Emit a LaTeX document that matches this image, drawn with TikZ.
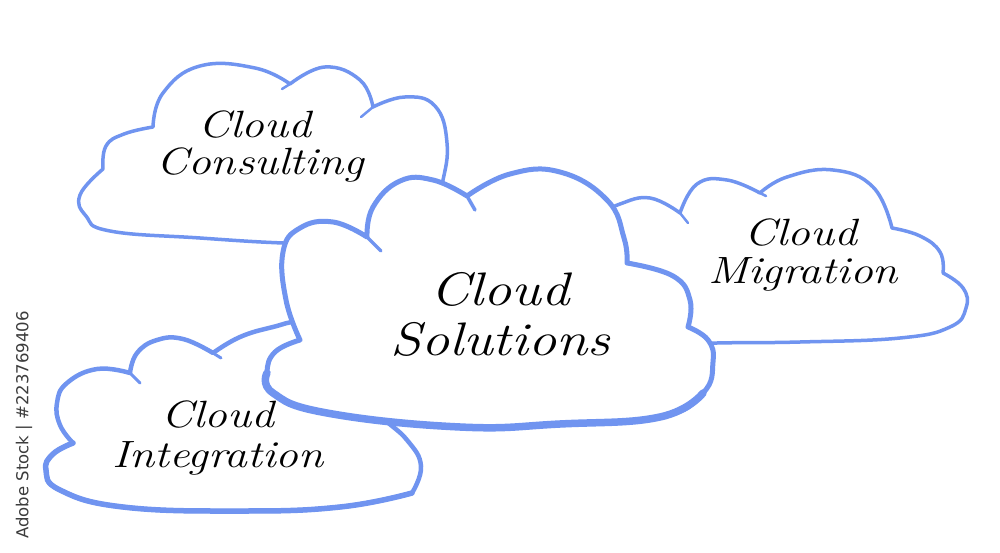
\documentclass[tikz,border=0pt]{standalone}
\usepackage{fontspec}
\newfontfamily\wmfont{DejaVu Sans}
\definecolor{cloudblue}{RGB}{112,148,240}
\definecolor{wmgray}{RGB}{60,60,60}
\newcommand\cloudtxt[2]{\scalebox{1.2}[1]{\fontsize{#1}{#1}\selectfont\itshape #2}}
\tikzset{
  cloudline/.style={draw=cloudblue, fill=white, line join=round, line cap=round},
  tailline/.style={draw=cloudblue, line cap=round},
  lbl/.style={anchor=base, inner sep=0pt, text=black},
  sm/.style={smooth, tension=0.75},
}
\begin{document}
\begin{tikzpicture}[x=1pt,y=-1pt]
\useasboundingbox (0,0) rectangle (1000,553);
\fill[white] (0,0) rectangle (1000,553);

% ---------- Cloud Consulting ----------
\path[cloudline, line width=3.5]
 plot[sm] coordinates {(103,169) (106,146) (124,134) (153,127)}
 -- plot[sm] coordinates {(153,127) (163,93) (200,66) (255,68) (290,84)}
 -- plot[sm] coordinates {(290,84) (325,67) (360,80) (373,107)}
 -- plot[sm] coordinates {(373,107) (405,97) (435,106) (447,143) (442,185) (430,230)}
 -- plot[sm] coordinates {(430,230) (350,244) (283,243) (200,238) (110,231) (86,216) (80,195) (103,169)}
 -- cycle;
\draw[tailline, line width=2.5] (290,84) -- (282,89);
\draw[tailline, line width=2.5] (373,107) -- (361,117);
\node[lbl] (consA) at (255,138) {\cloudtxt{38}{Cloud}};
\node[lbl] (consB) at (260,175) {\cloudtxt{38}{Consulting}};

% ---------- Cloud Integration ----------
\path[cloudline, line width=4.5]
 plot[sm] coordinates {(130,373) (137,353) (157,340) (183,339) (213,353)}
 -- plot[sm] coordinates {(213,353) (240,337) (273,327) (300,322) (330,330)}
 -- plot[sm] coordinates {(330,330) (350,380) (380,415) (407,440) (421,466) (412,493)}
 -- plot[sm] coordinates {(412,493) (340,507) (240,511) (123,507) (60,490) (46,470) (53,454) (73,443)}
 -- plot[sm] coordinates {(73,443) (60,425) (57,403) (67,383) (97,369) (130,373)}
 -- cycle;
\draw[tailline, line width=5.5]
 plot[sm] coordinates {(412,493) (340,507) (240,511) (123,507) (60,490) (46,470) (53,454) (73,443)};
\draw[tailline, line width=3] (130,373) -- (140,383);
\draw[tailline, line width=3] (213,353) -- (221,358);
\node[lbl] (intA) at (218,427) {\cloudtxt{38}{Cloud}};
\node[lbl] (intB) at (218,467) {\cloudtxt{38}{Integration}};

% ---------- Cloud Migration ----------
\path[cloudline, line width=3.5]
 plot[sm] coordinates {(600,215) (620,204) (650,198) (680,213)}
 -- plot[sm] coordinates {(680,213) (697,184) (727,180) (760,193)}
 -- plot[sm] coordinates {(760,193) (787,177) (833,170) (873,187) (892,228)}
 -- plot[sm] coordinates {(892,228) (920,236) (940,252) (943,273)}
 -- plot[sm] coordinates {(943,273) (963,288) (966,308) (950,327) (900,338) (800,342) (717,343) (690,345) (660,340)}
 -- (600,250) -- cycle;
\draw[tailline, line width=2.5] (680,213) -- (688,223);
\draw[tailline, line width=2.5] (760,193) -- (766,196);
\node[lbl] (migA) at (801,245) {\cloudtxt{38}{Cloud}};
\node[lbl] (migB) at (803,283) {\cloudtxt{38}{Migration}};

% ---------- Cloud Solutions ----------
\path[cloudline, line width=5]
 plot[sm] coordinates {(300,340) (286,300) (283,252) (300,228) (333,222) (367,237)}
 -- plot[sm] coordinates {(367,237) (373,207) (400,181) (433,180) (467,196)}
 -- plot[sm] coordinates {(467,196) (510,174) (560,172) (607,200) (624,238) (627,263)}
 -- plot[sm] coordinates {(627,263) (673,276) (690,300) (688,327)}
 -- plot[sm] coordinates {(688,327) (708,340) (713,362) (703,393) (660,417) (560,424) (460,427) (327,413) (273,393) (267,373) (275,352) (300,340)}
 -- cycle;
\draw[tailline, line width=7.5]
 plot[sm] coordinates {(703,393) (660,417) (560,424) (460,427) (327,413) (273,393) (267,373)};
\draw[tailline, line width=3.5] (467,196) -- (475,210);
\draw[tailline, line width=3.5] (367,237) -- (381,251);
\node[lbl] (solA) at (500,305) {\cloudtxt{47}{Cloud}};
\node[lbl] (solB) at (500,355) {\cloudtxt{47}{Solutions}};

% ---------- side text ----------
\node[rotate=90, text=wmgray, font=\wmfont\fontsize{16.5}{16.5}\selectfont, inner sep=0pt]
 (wm) at (24,425) {Adobe Stock | \#223769406};
\end{tikzpicture}
\end{document}
